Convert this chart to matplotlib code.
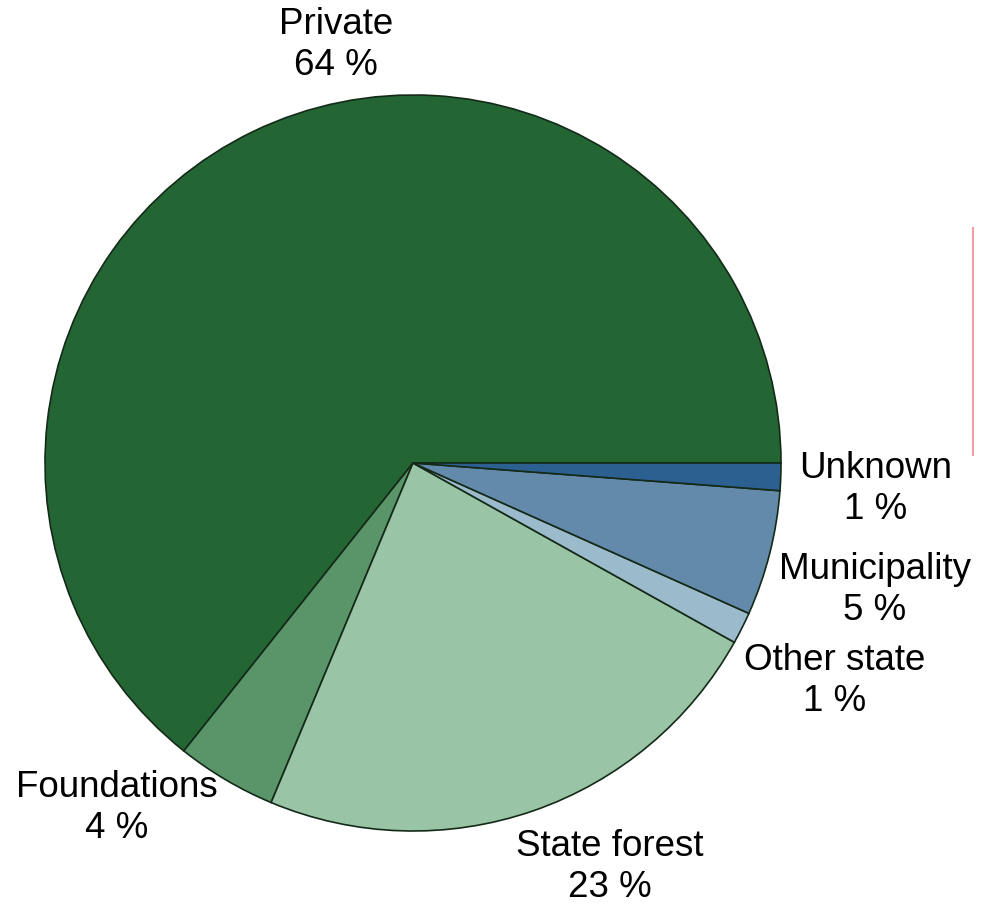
import numpy as np
import matplotlib.pyplot as plt

plt.rcParams['font.family'] = ['Liberation Sans', 'DejaVu Sans']

# ownership shares, labels show rounded values
owners = ["Private", "Foundations", "State forest", "Other state", "Municipality", "Unknown"]
shares = [64.3, 4.4, 23.2, 1.4, 5.5, 1.2]
shown = [64, 4, 23, 1, 5, 1]
colors = ["#236634", "#5a9469", "#99c4a5", "#9bbacb", "#6389ab", "#2c6090"]

# label centres in pixel coords (x, y from top)
label_pos = [(336, 45), (117, 808), (610, 867), (835, 681), (875, 590), (876, 489)]

W, H = 988, 907
fig = plt.figure(figsize=(W / 100, H / 100), dpi=100)
ax = fig.add_axes([0, 0, 1, 1])

ax.pie(shares, colors=colors, startangle=0, counterclock=True,
       center=(413, H - 463), radius=368,
       wedgeprops=dict(edgecolor="#142a18", linewidth=1.2))

# pie resets the limits, so set pixel coords afterwards
ax.set_xlim(0, W)
ax.set_ylim(0, H)
ax.set_aspect("equal")
ax.axis("off")

for name, val, (px, py) in zip(owners, shown, label_pos):
    ax.text(px, H - py, f"{name}\n{val} %", ha="center", va="center",
            fontsize=26.5, linespacing=1.22, color="black")

# thin red line at the right edge
ax.plot([973, 973], [H - 228, H - 455], color="#f2a0a0", lw=1.5)

fig.savefig("out.png", dpi=100)
